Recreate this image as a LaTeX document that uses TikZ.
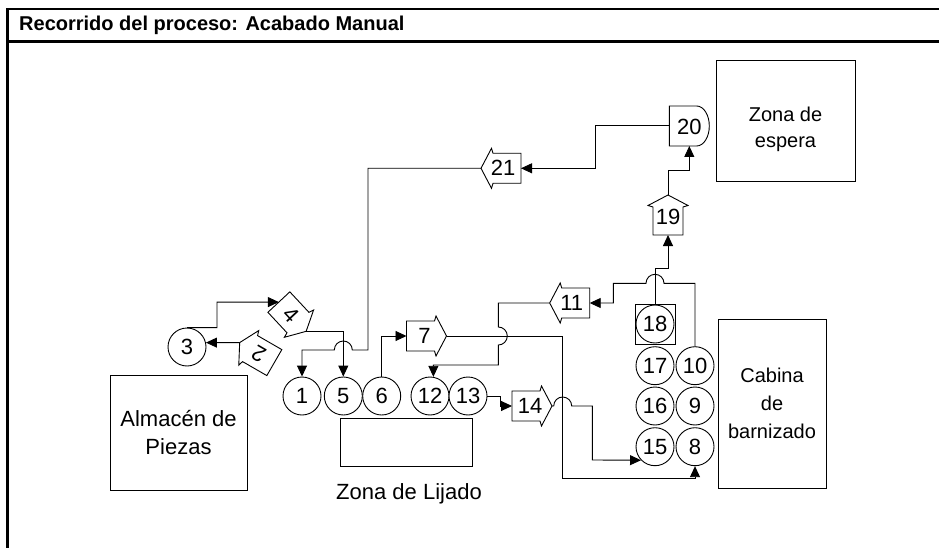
\documentclass[tikz,border=0pt]{standalone}
\usepackage{fontspec}
\setmainfont{Liberation Sans}
\usetikzlibrary{arrows.meta}
\tikzset{
  frame/.style={draw=black, line width=2.4pt, line join=miter},
  shp/.style={draw=black, fill=white, line width=0.9pt, line join=miter},
  box/.style={draw=black, line width=0.9pt, inner sep=0pt, align=center},
  flow/.style={draw=black, line width=0.9pt, -{Triangle[length=11pt,width=10pt]}},
  num/.style={font=\fontsize{22}{22}\selectfont, inner sep=0pt},
  stn/.style={circle, draw=black, fill=white, line width=0.9pt, minimum size=38pt, inner sep=0pt, font=\fontsize{22}{22}\selectfont},
  titletxt/.style={font=\fontsize{20}{20}\selectfont\bfseries, inner sep=0pt},
  lblrot/.store in=\lblrot, lblrot=0,
  tport/.pic={
    \draw[shp] (-20,-15) -- (8,-15) -- (9.5,-20) -- (20,0) -- (9.5,20) -- (8,15) -- (-20,15) -- cycle;
    \coordinate (-tip) at (20,0);
    \coordinate (-back) at (-20,0);
    \node[num, rotate=\lblrot] (-lbl) at (-2,0) {#1};
  },
}
\begin{document}
\begin{tikzpicture}[x=1pt,y=-1pt]
\useasboundingbox (0,0) rectangle (939,548);
% frame and title
\draw[frame] (7.3,548) -- (7.3,9) -- (939,9);
\draw[frame] (7.3,41.7) -- (939,41.7);
\node[titletxt, anchor=base west] (ttl) at (19,31) {Recorrido del proceso: Acabado Manual};

% zones
\node[box, minimum width=137pt, minimum height=115pt, font=\fontsize{22}{27.7}\selectfont] (alm) at (178.5,432.5) {Almacén de\\Piezas};
\node[box, minimum width=132pt, minimum height=47.7pt] (lij) at (406.7,442.2) {};
\node[inner sep=0pt, anchor=base, font=\fontsize{22}{22}\selectfont] (lijt) at (409,499.3) {Zona de Lijado};
\node[box, minimum width=108pt, minimum height=169pt, font=\fontsize{20}{28}\selectfont] (cab) at (772,403.5) {Cabina\\de\\barnizado};
\node[box, minimum width=139pt, minimum height=121pt] (esp) at (785.5,120.5) {};
\node[inner sep=0pt, align=center, font=\fontsize{20}{26}\selectfont] (espt) at (785.5,128.9) {Zona de\\espera};

% square around 18
\node[draw=black, line width=0.9pt, minimum width=39.3pt, minimum height=40.3pt, inner sep=0pt] (sq18) at (655.3,324.2) {};

% stations
\node[stn] (c3) at (187,347) {3};
\node[stn] (c1) at (302,396) {1};
\node[stn] (c5) at (343.3,396) {5};
\node[stn] (c6) at (381.7,396) {6};
\node[stn] (c12) at (430,396) {12};
\node[stn] (c13) at (468,396) {13};
\node[stn] (c18) at (655,324) {18};
\node[stn] (c17) at (655,365.7) {17};
\node[stn] (c16) at (655,406) {16};
\node[stn] (c15) at (655,446.7) {15};
\node[stn] (c10) at (695,365.7) {10};
\node[stn] (c9) at (695,406) {9};
\node[stn] (c8) at (695,446.7) {8};

% transports
\pic (a7) at (426.5,336) {tport=7};
\pic[rotate=180] (a11) at (569.7,303) {tport=11};
\pic[rotate=180] (a21) at (501,168.3) {tport=21};
\pic (a14) at (532,406) {tport=14};
\pic[rotate=90] (a19) at (668,215) {tport=19};
\pic[rotate=-47, lblrot=-47] (a4) at (292.5,316.7) {tport=4};
\pic[rotate=150, lblrot=150] (a2) at (257,352.6) {tport=2};

% delay 20
\draw[shp] (669.3,106) -- (696.7,106) arc[start angle=90, end angle=-90, x radius=12.6pt, y radius=20pt] -- (669.3,146) -- cycle;
\node[num] (d20) at (689.3,127) {20};
\coordinate (d20s) at (689.3,146);
\coordinate (d20w) at (669.3,125);

% connectors
\draw[flow] (c3.north) -| (217,302.1) -- (a4-back);
\draw[flow] (a4-tip) -| (c5.north);
\draw[flow] (a2-tip) -- (c3.13);
\draw[flow] (a21-tip) -| (368,350) -- (352.3,350) arc[start angle=0, end angle=180, radius=9pt] -- (302,350) -- (c1.north);
\draw[flow] (c6.north) |- (a7-back);
\draw[flow] (a7-tip) -| (562.7,478) -| (c8.south);
\draw[flow] (a11-tip) -- (498.3,303) -- (498.3,327) arc[start angle=90, end angle=-90, radius=9pt] -- (498.3,365) -- (c12.80 |- 0,365) -- (c12.80);
\draw[flow] (c13.east) -- (500,396) -- (500,406) -- (a14-back);
\draw[flow] (a14-tip) -- (553.7,406) arc[start angle=180, end angle=0, radius=9pt] -- (592.3,406) -- (592.3,460) -- (c15.224);
\draw[flow] (c10.north) -- (695,283.3) -- (664,283.3) arc[start angle=0, end angle=180, radius=9pt] -- (613.3,283.3) -- (613.3,303) -- (a11-back);
\draw[flow] (c18.north) |- (668,268.3) -- (a19-back);
\draw[flow] (a19-tip) |- (689.3,170) -- (d20s);
\draw[flow] (d20w) -| (595,168.3) -- (a21-back);
\end{tikzpicture}
\end{document}
